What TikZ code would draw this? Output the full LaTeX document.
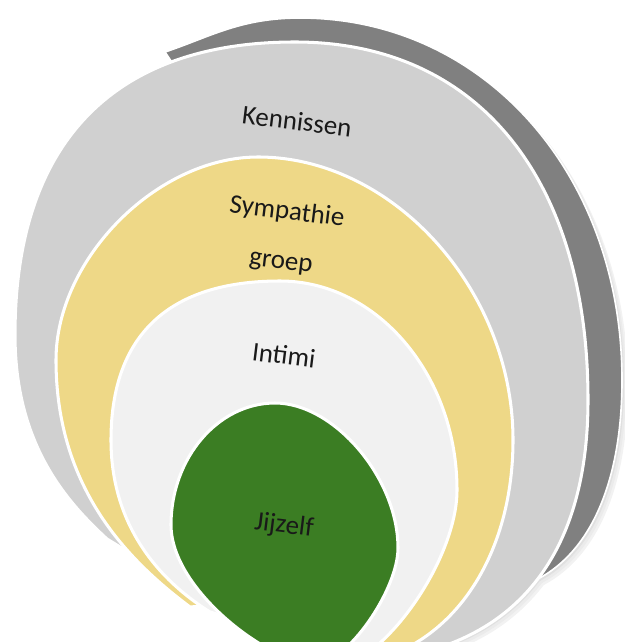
\documentclass[tikz,border=0pt]{standalone}
\usepackage{fontspec}
\setmainfont{Carlito}
\definecolor{dkgray}{RGB}{128,128,128}
\definecolor{ltgray}{RGB}{208,208,208}
\definecolor{ylw}{RGB}{238,216,135}
\definecolor{pale}{RGB}{241,241,241}
\definecolor{grn}{RGB}{59,125,35}
\begin{document}
\begin{tikzpicture}[x=0.03cm,y=-0.03cm]
\tikzset{
  ring/.style={draw=white,line width=2.6pt,line join=round},
  lbl/.style={font=\fontsize{23}{42.5}\selectfont,text=black!90,rotate=-7,inner sep=0pt,align=center}
}
\useasboundingbox (0,0) rectangle (625,642);
\clip (0,0) rectangle (625,642);
% soft shadow on the right side
\begin{scope}
\clip (330,0) rectangle (625,642);
\foreach \d/\c in {6/5,4/8,2/12}{
  \fill[black!\c,shift={(\d,\d)}] (165,52) .. controls +(45,-15) and +(-60,0) .. (300,18)
    .. controls +(184,0) and +(0,-206) .. (622,380)
    .. controls +(0,110) and +(73,-19) .. (512,589) -- (400,400) -- cycle;
  \fill[black!\c,shift={(\d,\d)}] (295,42) .. controls +(182,0) and +(0,-222) .. (588,400)
    .. controls +(0,170) and +(161,0) .. (340,662) -- (300,300) -- cycle;
}
\end{scope}
% dark back crescent
\filldraw[fill=dkgray,draw=white,line width=1.4pt] (165,52) .. controls +(45,-15) and +(-60,0) .. (300,18)
  .. controls +(184,0) and +(0,-206) .. (622,380)
  .. controls +(0,110) and +(73,-19) .. (512,589) -- (400,400) -- cycle;
% Kennissen
\filldraw[fill=ltgray,ring] (295,42) .. controls +(182,0) and +(0,-222) .. (588,400)
  .. controls +(0,170) and +(161,0) .. (340,662)
  -- (250,626) -- (107,539)
  .. controls +(-40,-37) and +(0,110) .. (15,335)
  .. controls +(0,-192) and +(-182,0) .. (295,42) -- cycle;
% Sympathie groep
\filldraw[fill=ylw,ring] (258,157) .. controls +(135,0) and +(0,-150) .. (513,440)
  .. controls +(0,130) and +(103,0) .. (335,665)
  -- (245,622) -- (215,605) -- (190,607)
  .. controls +(-60,-45) and +(0,130) .. (56,360)
  .. controls +(0,-101) and +(-101,0) .. (258,157) -- cycle;
% Intimi
\filldraw[fill=pale,ring] (280,281) .. controls +(97,0) and +(0,-115) .. (457,490)
  .. controls +(0,71) and +(51,0) .. (330,668)
  -- (252,624) -- (210,612)
  .. controls +(-40,-25) and +(0,95) .. (111,440)
  .. controls +(0,-105) and +(-111,0) .. (280,281) -- cycle;
% Jijzelf
\filldraw[fill=grn,ring] (275,403) .. controls +(59,0) and +(0,-70) .. (398,548)
  .. controls +(0,42) and +(32,0) .. (315,664)
  .. controls +(-45,0) and +(0,65) .. (171,525)
  .. controls +(0,-67) and +(-57,0) .. (275,403) -- cycle;
% labels
\node[lbl] (kennissen) at (297,121) {Kennissen};
\node[lbl] (sympathie) at (284,237) {Sympathie\\groep};
\node[lbl] (intimi) at (284,355) {Intimi};
\node[lbl] (jijzelf) at (284,526) {Jijzelf};
\end{tikzpicture}
\end{document}
